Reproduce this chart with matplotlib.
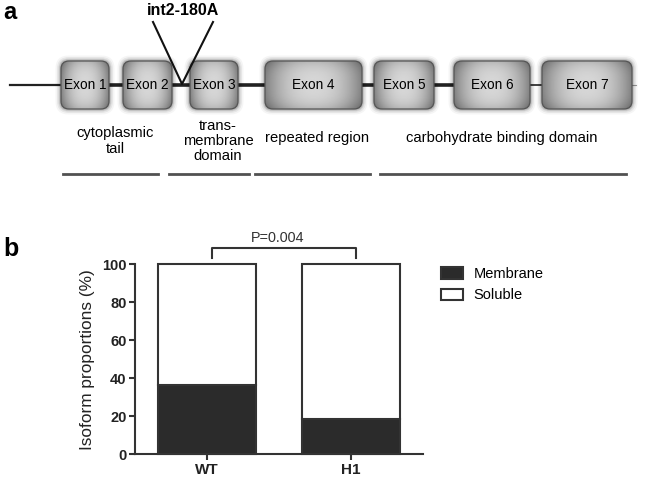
import numpy as np
import matplotlib
matplotlib.use('Agg')
from matplotlib import pyplot as plt
from matplotlib.patches import FancyBboxPatch, Patch

plt.rcParams['font.family'] = ['Liberation Sans', 'DejaVu Sans']

# panel a: gene structure (pixel layout of the schematic)
exon_names = ['Exon 1', 'Exon 2', 'Exon 3', 'Exon 4', 'Exon 5', 'Exon 6', 'Exon 7']
exon_start = [61, 123, 190, 265, 374, 454, 542]
exon_end = [109, 172, 238, 362, 434, 530, 632]
intron_thick = [True, True, True, True, True, False]

domain_names = ['cytoplasmic\ntail', 'trans-\nmembrane\ndomain', 'repeated region',
                'carbohydrate binding domain']
domain_center = [115, 218, 317, 502]
domain_start = [63, 169, 255, 380]
domain_end = [158, 249, 370, 626]

# panel b: isoform proportions
groups = ['WT', 'H1']
membrane = [36.5, 18.5]
soluble = [63.5, 81.5]
p_text = 'P=0.004'

fig = plt.figure(figsize=(6.47, 4.79), dpi=100)

ax = fig.add_axes([0, 0, 1, 1])
ax.set_xlim(0, 647)
ax.set_ylim(479, 0)
ax.axis('off')

y_line = 85
y0, y1 = 61, 109

# backbone
ax.plot([10, exon_start[0]], [y_line, y_line], color='#222222', lw=1.6, zorder=1)
ax.plot([exon_end[-1], 636], [y_line, y_line], color='#999999', lw=0.8, zorder=1)
for i in range(len(exon_names) - 1):
    lw = 2.6 if intron_thick[i] else 1.2
    ax.plot([exon_end[i], exon_start[i + 1]], [y_line, y_line], color='#222222', lw=lw, zorder=1)

# exons with glow and gradient
for name, xs, xe in zip(exon_names, exon_start, exon_end):
    for k, a in zip([11, 8, 5, 3], [0.04, 0.06, 0.09, 0.12]):
        glow = FancyBboxPatch((xs - k / 2, y0 - k / 2), xe - xs + k, y1 - y0 + k,
                              boxstyle='round,pad=0,rounding_size=%d' % (8 + k / 2),
                              fc='black', ec='none', alpha=a, zorder=2)
        ax.add_patch(glow)
    box = FancyBboxPatch((xs, y0), xe - xs, y1 - y0, boxstyle='round,pad=0,rounding_size=8',
                         fc='none', ec='#555555', lw=0.9, zorder=4)
    ax.add_patch(box)
    t = np.linspace(-1, 1, 60)
    u = np.linspace(-1, 1, 40)
    X, Y = np.meshgrid(t, u)
    g = 0.84 - 0.32 * np.abs(X) ** 2.2 - 0.12 * np.abs(Y) ** 3
    im = ax.imshow(g, cmap='gray', vmin=0, vmax=1, extent=[xs, xe, y1, y0],
                   aspect='auto', zorder=3, interpolation='bilinear')
    im.set_clip_path(box)
    ax.text((xs + xe) / 2, y_line, name, ha='center', va='center', fontsize=9.8, zorder=5)

# int2-180A insertion
ax.plot([153, 182, 213], [22, 84, 22], color='#111111', lw=1.5, zorder=5)
ax.text(183, 10, 'int2-180A', ha='center', va='center', fontsize=11.5, fontweight='bold')

# domains
domain_y = [141, 141, 138, 138]
for name, xc, xs, xe, yy in zip(domain_names, domain_center, domain_start, domain_end, domain_y):
    ax.text(xc, yy, name, ha='center', va='center', fontsize=10.6, linespacing=1.1)
    ax.plot([xs, xe], [174, 174], color='#333333', lw=2.0, alpha=0.85)

ax.text(3, 19, 'a', ha='left', va='baseline', fontsize=17, fontweight='bold')
ax.text(3, 256, 'b', ha='left', va='baseline', fontsize=18, fontweight='bold')

# panel b
bx = fig.add_axes([135 / 647, (479 - 454.3) / 479, 288 / 647, 190 / 479])
pos = np.arange(len(groups))
ec = '#333333'
bx.bar(pos, membrane, width=0.68, color='#2b2b2b', edgecolor=ec, lw=1.5,
       label='Membrane', clip_on=False)
bx.bar(pos, soluble, width=0.68, bottom=membrane, color='white', edgecolor=ec, lw=1.5,
       label='Soluble', clip_on=False)
bx.set_xlim(-0.5, 1.5)
bx.set_ylim(0, 100)
bx.set_yticks([0, 20, 40, 60, 80, 100])
bx.set_xticks(pos)
bx.set_xticklabels(groups, fontsize=11, fontweight='bold')
for lab in bx.get_yticklabels():
    lab.set_fontweight('bold')
    lab.set_fontsize(10.5)
bx.tick_params(axis='both', width=1.5, length=4, color=ec, labelcolor='#222222', pad=2)
for s in ['top', 'right']:
    bx.spines[s].set_visible(False)
for s in ['left', 'bottom']:
    bx.spines[s].set_linewidth(1.5)
    bx.spines[s].set_color(ec)
bx.set_ylabel('Isoform proportions (%)', fontsize=12.4, labelpad=5, color='#222222')

# significance bracket
bx.plot([0.035, 0.035, 1.035, 1.035], [103.3, 108.6, 108.6, 103.3], color=ec, lw=1.5,
        clip_on=False)
bx.text(0.49, 114, p_text, ha='center', va='center', fontsize=10.4, color='#333333')

handles = [Patch(fc='#2b2b2b', ec=ec, lw=1.5), Patch(fc='white', ec=ec, lw=1.5)]
fig.legend(handles, ['Membrane', 'Soluble'], loc='upper left',
           bbox_to_anchor=(441 / 647, 1 - 267 / 479), frameon=False, fontsize=10.5,
           handlelength=1.5, handleheight=0.82, handletextpad=0.75, labelspacing=0.5,
           borderpad=0, borderaxespad=0)

fig.savefig('out.png', dpi=100)
